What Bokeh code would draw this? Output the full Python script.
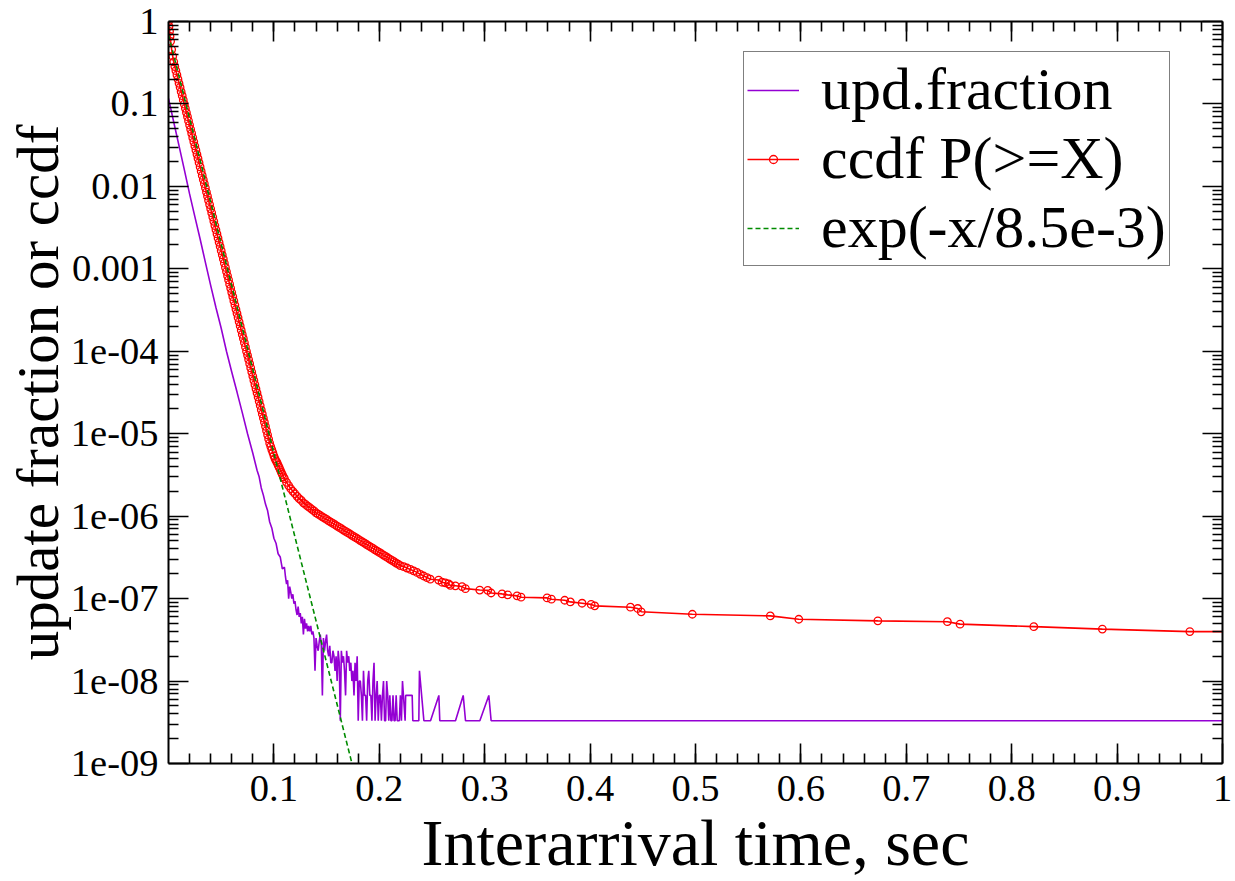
from bokeh.plotting import figure
from bokeh.models import (Range1d, FixedTicker, LinearAxis, LogAxis,
                          CustomJSTickFormatter, Legend, LegendItem)
from bokeh.embed import file_html
from bokeh.resources import INLINE

# ---------------- data ----------------
x_ticks = [0.1, 0.2, 0.3, 0.4, 0.5, 0.6, 0.7, 0.8, 0.9, 1.0]
x_tick_labels = ["0.1", "0.2", "0.3", "0.4", "0.5", "0.6", "0.7", "0.8", "0.9", "1"]
y_ticks = [1.0, 1e-1, 1e-2, 1e-3, 1e-4, 1e-5, 1e-6, 1e-7, 1e-8, 1e-9]
y_tick_labels = ["1", "0.1", "0.01", "0.001", "1e-04", "1e-05", "1e-06",
                 "1e-07", "1e-08", "1e-09"]

series_labels = ["upd.fraction", "ccdf P(>=X)", "exp(-x/8.5e-3)"]

# update fraction (purple)
upd_x = [0.000, 0.005, 0.010, 0.015, 0.020, 0.025, 0.030, 0.035, 0.040, 0.045,
         0.050, 0.055, 0.060, 0.065, 0.070, 0.075, 0.080, 0.084, 0.086, 0.088,
         0.090, 0.092, 0.094, 0.096, 0.098, 0.100, 0.102, 0.104, 0.106, 0.108,
         0.110,
         0.111, 0.112, 0.113, 0.114, 0.115, 0.116, 0.117, 0.118, 0.119, 0.120,
         0.121, 0.122, 0.123, 0.124, 0.125, 0.126, 0.127, 0.128, 0.129, 0.130,
         0.131, 0.132, 0.133, 0.134, 0.135, 0.136, 0.137, 0.138, 0.139, 0.140,
         0.141, 0.142, 0.143, 0.144, 0.145, 0.146, 0.147, 0.148, 0.149, 0.150,
         0.151, 0.152, 0.153, 0.154, 0.155, 0.156, 0.157, 0.158, 0.159, 0.160,
         0.161, 0.162, 0.163, 0.164, 0.165, 0.166, 0.167, 0.168, 0.169, 0.170,
         0.171, 0.172, 0.173, 0.174, 0.175, 0.176, 0.177, 0.178, 0.179, 0.180,
         0.181, 0.182, 0.183, 0.184, 0.185, 0.186, 0.187, 0.188, 0.189, 0.190,
         0.191, 0.192, 0.193, 0.194, 0.195, 0.196, 0.197, 0.198, 0.199, 0.200,
         0.201, 0.202, 0.203, 0.204, 0.205, 0.206, 0.207, 0.208, 0.209, 0.210,
         0.211, 0.212, 0.213, 0.214, 0.215, 0.216, 0.217, 0.218, 0.219, 0.220,
         0.221, 0.222,
         0.2245, 0.2250, 0.2312, 0.2318, 0.2375, 0.2381, 0.2423, 0.2486, 0.2565,
         0.2574, 0.2723, 0.2796, 0.2818, 0.2954, 0.3039, 0.3061, 1.05]
upd_y = [1.17e-1, 6.0e-2, 3.1e-2, 1.6e-2, 8.1e-3, 4.3e-3, 2.3e-3, 1.2e-3, 6.3e-4, 3.4e-4,
         1.9e-4, 1.0e-4, 5.6e-5, 3.2e-5, 1.8e-5, 1.0e-5, 5.8e-6, 3.6e-6, 3.0e-6, 2.2e-6,
         1.8e-6, 1.4e-6, 1.17e-6, 8.5e-7, 7.2e-7, 5.4e-7, 4.7e-7, 3.5e-7, 3.2e-7, 2.3e-7,
         2.4e-7,
         1.83e-7, 1.5e-7, 1.67e-7, 1.0e-7, 1.4e-7, 1.2e-7, 1.0e-7, 1.13e-7, 8.67e-8, 9.33e-8,
         7.33e-8, 6.33e-8, 8.0e-8, 6.0e-8, 6.67e-8, 5.0e-8, 6.0e-8, 3.67e-8, 5.67e-8, 4.33e-8,
         5.0e-8, 4.0e-8, 4.67e-8, 4.0e-8, 4.67e-8, 3.67e-8, 4.0e-8, 3.33e-8, 1.33e-8, 3.33e-8,
         2.67e-8, 2.33e-8, 3.0e-8, 3.67e-8, 2.67e-8, 6.7e-9, 3.33e-8, 2.33e-8, 3.0e-8, 3.67e-8,
         2.33e-8, 2.0e-8, 2.67e-8, 1.67e-8, 1.67e-8, 2.33e-8, 2.0e-8, 1.33e-8, 2.0e-8, 1.0e-8,
         2.33e-8, 1.67e-8, 3.3e-9, 2.33e-8, 1.67e-8, 2.0e-8, 1.33e-8, 6.7e-9, 2.33e-8, 1.67e-8,
         2.0e-8, 1.33e-8, 1.67e-8, 1.0e-8, 1.33e-8, 6.7e-9, 1.67e-8, 1.0e-8, 2.0e-8, 3.3e-9,
         1.0e-8, 1.0e-8, 6.7e-9, 3.3e-9, 1.33e-8, 6.7e-9, 6.7e-9, 3.3e-9, 1.0e-8, 1.33e-8,
         6.7e-9, 6.7e-9, 3.3e-9, 1.0e-8, 1.67e-8, 3.3e-9, 6.7e-9, 1.0e-8, 3.3e-9, 6.7e-9,
         6.7e-9, 3.3e-9, 6.7e-9, 1.0e-8, 3.3e-9, 3.3e-9, 1.0e-8, 6.7e-9, 3.3e-9, 6.7e-9,
         3.3e-9, 3.3e-9, 6.7e-9, 3.3e-9, 3.3e-9, 6.7e-9, 3.3e-9, 3.3e-9, 3.3e-9, 6.7e-9,
         3.3e-9, 1.0e-8,
         3.3e-9, 6.7e-9, 6.7e-9, 3.3e-9, 3.3e-9, 1.33e-8, 3.3e-9, 3.3e-9, 6.7e-9,
         3.3e-9, 3.3e-9, 6.7e-9, 3.3e-9, 3.3e-9, 6.7e-9, 3.3e-9, 3.3e-9]

# ccdf P(>=X) (red, with circles)
ccdf_x = [0.0, 0.0005, 0.001, 0.0015, 0.002, 0.003, 0.004, 0.005,
          0.006, 0.007, 0.008, 0.009, 0.010, 0.011, 0.012, 0.013, 0.014, 0.015,
          0.016, 0.017, 0.018, 0.019, 0.020, 0.021, 0.022, 0.023, 0.024, 0.025,
          0.026, 0.027, 0.028, 0.029, 0.030, 0.031, 0.032, 0.033, 0.034, 0.035,
          0.036, 0.037, 0.038, 0.039, 0.040, 0.041, 0.042, 0.043, 0.044, 0.045,
          0.046, 0.047, 0.048, 0.049, 0.050, 0.051, 0.052, 0.053, 0.054, 0.055,
          0.056, 0.057, 0.058, 0.059, 0.060, 0.061, 0.062, 0.063, 0.064, 0.065,
          0.066, 0.067, 0.068, 0.069, 0.070, 0.071, 0.072, 0.073, 0.074, 0.075,
          0.076, 0.077, 0.078, 0.079, 0.080, 0.081, 0.082, 0.083, 0.084, 0.085,
          0.086, 0.087, 0.088, 0.089, 0.090, 0.091, 0.092, 0.093, 0.094, 0.095,
          0.096, 0.097, 0.098, 0.099, 0.100, 0.101, 0.102, 0.103, 0.104, 0.105,
          0.106, 0.107, 0.108, 0.109, 0.110,
          0.112, 0.114, 0.116, 0.118, 0.120, 0.122, 0.124, 0.126, 0.128, 0.130,
          0.132, 0.134, 0.136, 0.138, 0.140, 0.142, 0.144, 0.146, 0.148, 0.150,
          0.152, 0.154, 0.156, 0.158, 0.160, 0.162, 0.164, 0.166, 0.168, 0.170,
          0.172, 0.174, 0.176, 0.178, 0.180, 0.182, 0.184, 0.186, 0.188, 0.190,
          0.192, 0.194, 0.196, 0.198, 0.200, 0.202, 0.204, 0.206, 0.208, 0.210,
          0.212, 0.214, 0.216, 0.218, 0.220,
          0.2231, 0.2263, 0.2295, 0.2326, 0.2358, 0.2390, 0.2421, 0.2453, 0.2484,
          0.2563, 0.2595, 0.2627, 0.2658, 0.2674, 0.2722, 0.2785, 0.2817, 0.2953,
          0.3029, 0.3061, 0.3165, 0.3218, 0.3307, 0.3345, 0.3592, 0.3633, 0.3759,
          0.3813, 0.3924, 0.4010, 0.4044, 0.4383, 0.4452, 0.4485, 0.497, 0.571,
          0.598, 0.673, 0.739, 0.751, 0.821, 0.886, 0.969, 1.05]
ccdf_y = [1.0, 0.871, 0.759, 0.661, 0.575, 0.457, 0.380, 0.324,
          0.284, 0.253, 0.225, 0.200, 0.178, 0.159, 0.141, 0.126, 0.112, 0.0994,
          0.0885, 0.0787, 0.0700, 0.0623, 0.0554, 0.0493, 0.0439, 0.0390, 0.0347, 0.0309,
          0.0275, 0.0245, 0.0218, 0.0194, 0.0172, 0.0153, 0.0136, 0.0121, 0.0108, 0.00960,
          0.00854, 0.00760, 0.00676, 0.00601, 0.00535, 0.00476, 0.00424, 0.00377, 0.00335, 0.00298,
          0.00265, 0.00236, 0.00210, 0.00187, 0.00166, 0.00148, 0.00132, 0.00117, 0.00104, 9.27e-4,
          8.24e-4, 7.33e-4, 6.52e-4, 5.80e-4, 5.16e-4, 4.59e-4, 4.08e-4, 3.63e-4, 3.23e-4, 2.88e-4,
          2.56e-4, 2.28e-4, 2.03e-4, 1.80e-4, 1.60e-4, 1.43e-4, 1.27e-4, 1.13e-4, 1.00e-4, 8.93e-5,
          7.95e-5, 7.07e-5, 6.29e-5, 5.60e-5, 4.98e-5, 4.43e-5, 3.94e-5, 3.51e-5, 3.12e-5, 2.78e-5,
          2.47e-5, 2.20e-5, 1.95e-5, 1.74e-5, 1.55e-5, 1.38e-5, 1.23e-5, 1.09e-5, 9.70e-6, 8.63e-6,
          7.67e-6, 7.0e-6, 6.4e-6, 5.9e-6, 5.4e-6, 5.0e-6, 4.7e-6, 4.45e-6, 4.15e-6, 3.9e-6,
          3.65e-6, 3.4e-6, 3.2e-6, 3.0e-6, 2.85e-6,
          2.57e-6, 2.35e-6, 2.15e-6, 2.0e-6, 1.87e-6, 1.74e-6, 1.63e-6, 1.55e-6, 1.45e-6, 1.39e-6,
          1.32e-6, 1.27e-6, 1.21e-6, 1.16e-6, 1.096e-6, 1.057e-6, 1.019e-6, 9.82e-7, 9.46e-7, 9.12e-7,
          8.79e-7, 8.47e-7, 8.17e-7, 7.87e-7, 7.59e-7, 7.31e-7, 7.05e-7, 6.79e-7, 6.55e-7, 6.31e-7,
          6.08e-7, 5.86e-7, 5.65e-7, 5.45e-7, 5.25e-7, 5.06e-7, 4.88e-7, 4.70e-7, 4.53e-7, 4.37e-7,
          4.21e-7, 4.06e-7, 3.91e-7, 3.77e-7, 3.63e-7, 3.50e-7, 3.37e-7, 3.25e-7, 3.13e-7, 3.02e-7,
          2.91e-7, 2.81e-7, 2.70e-7, 2.61e-7, 2.51e-7,
          2.45e-7, 2.35e-7, 2.26e-7, 2.17e-7, 2.08e-7, 1.97e-7, 1.88e-7, 1.80e-7, 1.72e-7,
          1.68e-7, 1.58e-7, 1.55e-7, 1.51e-7, 1.45e-7, 1.43e-7, 1.40e-7, 1.32e-7, 1.27e-7,
          1.26e-7, 1.17e-7, 1.14e-7, 1.11e-7, 1.08e-7, 1.04e-7, 1.02e-7, 9.84e-8, 9.55e-8,
          9.12e-8, 8.79e-8, 8.51e-8, 8.17e-8, 7.87e-8, 7.59e-8, 6.92e-8, 6.46e-8, 6.17e-8,
          5.62e-8, 5.37e-8, 5.25e-8, 4.90e-8, 4.57e-8, 4.27e-8, 3.98e-8, 3.98e-8]

# exp(-x/8.5e-3) reference line (green dashed), straight on log scale
exp_x = [0.0, 0.18]
exp_y = [0.69, 5.0e-10]

# ---------------- figure ----------------
FONT = "Liberation Serif"

p = figure(width=1235, height=881,
           x_range=Range1d(0, 1), y_range=Range1d(1e-9, 1),
           y_axis_type="log", output_backend="svg", toolbar_location=None,
           min_border_left=168, min_border_right=13, min_border_top=21,
           min_border_bottom=116)
p.xgrid.visible = False
p.ygrid.visible = False
p.outline_line_color = None
p.background_fill_color = "white"

x_minor = [i * 0.02 for i in range(1, 50)]
y_minor = [m * 10.0 ** e for e in range(-9, 0) for m in range(2, 10)]
xticker = FixedTicker(ticks=x_ticks, minor_ticks=x_minor)
yticker = FixedTicker(ticks=y_ticks, minor_ticks=y_minor)

xfmt = CustomJSTickFormatter(args=dict(labels=x_tick_labels),
                             code="return labels[Math.round(tick*10) - 1];")
yfmt = CustomJSTickFormatter(args=dict(labels=y_tick_labels),
                             code="return labels[Math.round(-Math.log10(tick))];")
blank = CustomJSTickFormatter(code="return '';")


def style_axis(ax):
    ax.axis_line_color = "black"
    ax.axis_line_width = 2
    ax.major_tick_in = 20
    ax.major_tick_out = 0
    ax.minor_tick_in = 10
    ax.minor_tick_out = 0
    ax.major_tick_line_color = "black"
    ax.minor_tick_line_color = "black"
    ax.major_tick_line_width = 1.6
    ax.minor_tick_line_width = 1.6
    ax.major_label_text_font = FONT
    ax.major_label_text_font_size = "38.5px"
    ax.major_label_text_color = "black"
    ax.axis_label_text_font = FONT
    ax.axis_label_text_font_style = "normal"
    ax.axis_label_text_color = "black"


xb = p.below[0]
xb.ticker = xticker
xb.formatter = xfmt
style_axis(xb)
xb.major_label_standoff = 12
xb.axis_label = "Interarrival time, sec"
xb.axis_label_text_font_size = "66px"
xb.axis_label_standoff = 2

yl = p.left[0]
yl.ticker = yticker
yl.formatter = yfmt
style_axis(yl)
yl.major_label_standoff = 10
yl.axis_label = "update fraction or ccdf"
yl.axis_label_text_font_size = "59px"
yl.axis_label_standoff = -3

xt = LinearAxis(ticker=xticker, formatter=blank)
style_axis(xt)
xt.major_label_standoff = 0
p.add_layout(xt, "above")

yr = LogAxis(ticker=yticker, formatter=blank)
style_axis(yr)
yr.major_label_standoff = 0
p.add_layout(yr, "right")

r_upd = p.line(upd_x, upd_y, line_color="#9400d3", line_width=1.6)
r_cl = p.line(ccdf_x, ccdf_y, line_color="#ff0000", line_width=1.6)
r_cs = p.scatter(ccdf_x, ccdf_y, marker="circle", size=7.5, fill_color=None,
                 line_color="#ff0000", line_width=1.3)
r_exp = p.line(exp_x, exp_y, line_color="#008b00", line_width=1.6,
               line_dash="5 3")

legend = Legend(items=[LegendItem(label=series_labels[0], renderers=[r_upd]),
                       LegendItem(label=series_labels[1], renderers=[r_cl, r_cs]),
                       LegendItem(label=series_labels[2], renderers=[r_exp])],
                location=(575, 497))
legend.label_text_font = FONT
legend.label_text_font_size = "60px"
legend.label_text_line_height = 1.0
legend.label_text_color = "black"
legend.glyph_width = 52
legend.glyph_height = 20
legend.label_standoff = 22
legend.padding = 3
legend.spacing = -6
legend.margin = 0
legend.border_line_color = "black"
legend.border_line_width = 1.5
legend.background_fill_color = "white"
legend.background_fill_alpha = 1.0
p.add_layout(legend, "center")

open("out.html", "w").write(file_html(p, INLINE))
